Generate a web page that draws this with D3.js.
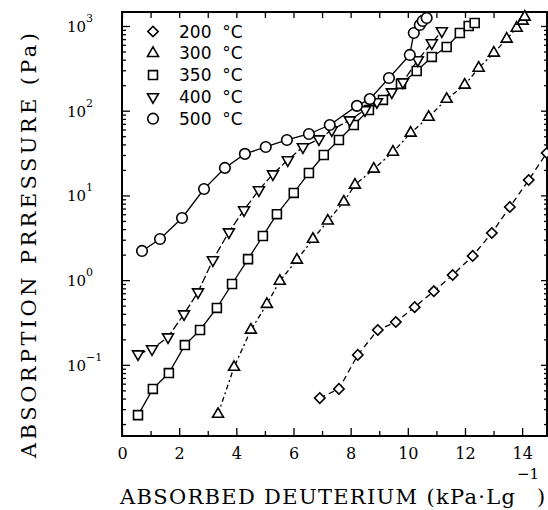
<!DOCTYPE html>
<html lang="en">
<head>
<meta charset="UTF-8">
<title>Absorption isotherms</title>
<script src="https://d3js.org/d3.v7.min.js"></script>
<style>
  body { margin: 0; background: #fff; }
  svg { display: block; }
  .axis path.domain { display: none; }
  .axis line { stroke: #000; stroke-width: 1.3; }
  .axis text { font-family: "DejaVu Serif", serif; font-size: 16px; fill: #000; }
</style>
</head>
<body>
<div id="chart"></div>
<script>
// absorbed deuterium (kPa L g-1) and absorption pressure (Pa)
const labels = ["200 \u00b0C", "300 \u00b0C", "350 \u00b0C", "400 \u00b0C", "500 \u00b0C"];

const absorbed200 = [6.92, 7.59, 8.25, 8.95, 9.58, 10.24, 10.91, 11.57, 12.27, 12.94, 13.57, 14.23, 14.86];
const pressure200 = [0.0405, 0.052, 0.131, 0.258, 0.32, 0.48, 0.74, 1.15, 1.93, 3.6, 7.3, 15.2, 31.7];

const absorbed300 = [3.36, 3.92, 4.51, 5.07, 5.52, 6.12, 6.68, 7.20, 7.76, 8.15, 8.81, 9.48, 10.10, 10.73, 11.36, 11.99, 12.48, 13.01, 13.46, 13.81, 14.02, 14.09];
const pressure300 = [0.0262, 0.094, 0.258, 0.52, 0.975, 1.73, 3.05, 5.0, 8.4, 13.3, 20.5, 32.5, 54.6, 84, 137, 201, 319, 480, 703, 946, 1146, 1276];

const absorbed350 = [0.56, 1.08, 1.64, 2.20, 2.73, 3.32, 3.85, 4.41, 4.93, 5.42, 6.01, 6.54, 7.06, 7.59, 8.11, 8.64, 9.13, 9.76, 10.31, 10.84, 11.36, 11.82, 12.13, 12.34];
const pressure350 = [0.0255, 0.052, 0.080, 0.171, 0.258, 0.47, 0.90, 1.77, 3.32, 6.0, 10.7, 18.4, 30.0, 45.1, 67.8, 102, 134, 207, 294, 431, 565, 826, 1000, 1085];

const absorbed400 = [0.56, 1.05, 1.61, 2.17, 2.66, 3.18, 3.74, 4.27, 4.79, 5.28, 5.80, 6.33, 6.89, 7.34, 7.97, 8.50, 8.92, 9.44, 9.83, 10.35, 10.84, 11.19];
const pressure400 = [0.134, 0.154, 0.213, 0.398, 0.724, 1.73, 3.70, 6.73, 11.6, 17.9, 26.2, 37.3, 46.3, 59.2, 77.6, 102, 127, 166, 218, 397, 630, 873];

const absorbed500 = [0.70, 1.33, 2.10, 2.87, 3.60, 4.30, 5.03, 5.77, 6.54, 7.27, 8.22, 8.67, 9.34, 10.07, 10.21, 10.42, 10.52, 10.66];
const pressure500 = [2.21, 3.06, 5.41, 11.9, 21.1, 30.9, 37.3, 45.1, 53.1, 67.8, 114, 137, 243, 455, 826, 1028, 1146, 1243];

const xMajorTicks = [0, 2, 4, 6, 8, 10, 12, 14];
const yDecades = [-1, 0, 1, 2, 3];

const W = 548, H = 510;
const plotLeft = 122, plotRight = 547, plotTop = 12, plotBottom = 436;

const svg = d3.select("#chart").append("svg")
    .attr("width", W)
    .attr("height", H);

const x = d3.scaleLinear().domain([0, 14.87]).range([plotLeft, plotRight]);
const y = d3.scaleLog().domain([Math.pow(10, -1.84), Math.pow(10, 3.165)]).range([plotBottom, plotTop]);

// tick positions
const xMinor = d3.range(1, 15, 2);
const xAll = d3.range(0, 15);
const yMajor = yDecades.map(p => Math.pow(10, p));
const yMinor = [];
for (let p = -2; p <= 3; p++) {
    for (let k = 2; k <= 9; k++) {
        const v = k * Math.pow(10, p);
        if (v > y.domain()[0] && v < y.domain()[1]) yMinor.push(v);
    }
}

// bottom axis
svg.append("g").attr("class", "axis")
    .attr("transform", `translate(0,${plotBottom})`)
    .call(d3.axisBottom(x).tickValues(xMajorTicks).tickSize(-8).tickPadding(12).tickFormat(d3.format("d")));
svg.append("g").attr("class", "axis")
    .attr("transform", `translate(0,${plotBottom})`)
    .call(d3.axisBottom(x).tickValues(xMinor).tickSize(-5).tickFormat(""));

// top axis
svg.append("g").attr("class", "axis")
    .attr("transform", `translate(0,${plotTop})`)
    .call(d3.axisTop(x).tickValues(xAll).tickSize(-6).tickFormat(""));

// left axis
svg.append("g").attr("class", "axis")
    .attr("transform", `translate(${plotLeft},0)`)
    .call(d3.axisLeft(y).tickValues(yMajor).tickSize(-8).tickFormat(""));
svg.append("g").attr("class", "axis")
    .attr("transform", `translate(${plotLeft},0)`)
    .call(d3.axisLeft(y).tickValues(yMinor).tickSize(-4).tickFormat(""));

// right axis
svg.append("g").attr("class", "axis")
    .attr("transform", `translate(${plotRight},0)`)
    .call(d3.axisRight(y).tickValues(yMajor).tickSize(-6).tickFormat(""));
svg.append("g").attr("class", "axis")
    .attr("transform", `translate(${plotRight},0)`)
    .call(d3.axisRight(y).tickValues(yMinor).tickSize(-3).tickFormat(""));

// frame
svg.append("rect")
    .attr("x", plotLeft).attr("y", plotTop)
    .attr("width", plotRight - plotLeft).attr("height", plotBottom - plotTop)
    .attr("fill", "none").attr("stroke", "#000").attr("stroke-width", 2);

// y tick labels 10^n
yDecades.forEach(p => {
    const t = svg.append("text")
        .attr("x", 67)
        .attr("y", y(Math.pow(10, p)) + 6)
        .attr("font-family", "DejaVu Serif, serif")
        .attr("font-size", 15)
        .text("10");
    t.append("tspan")
        .attr("dy", -10)
        .attr("font-size", 11)
        .text(p < 0 ? "\u2212" + (-p) : p);
});

// series
const series = [
    { name: labels[0], xs: absorbed200, ys: pressure200, shape: "diamond", dash: "6,4" },
    { name: labels[1], xs: absorbed300, ys: pressure300, shape: "up", dash: "5,3,2,3" },
    { name: labels[2], xs: absorbed350, ys: pressure350, shape: "square", dash: null },
    { name: labels[3], xs: absorbed400, ys: pressure400, shape: "down", dash: "8,3" },
    { name: labels[4], xs: absorbed500, ys: pressure500, shape: "circle", dash: null }
];

function marker(shape) {
    if (shape === "circle") return d3.symbol(d3.symbolCircle, 88)();
    if (shape === "square") return d3.symbol(d3.symbolSquare, 80)();
    if (shape === "diamond") return d3.symbol(d3.symbolSquare, 54)();
    return d3.symbol(d3.symbolTriangle, 52)();
}
function rot(shape) {
    if (shape === "diamond") return " rotate(45)";
    if (shape === "down") return " rotate(180)";
    return "";
}

const line = d3.line().x(d => x(d[0])).y(d => y(d[1]));

series.forEach(s => {
    const pts = s.xs.map((v, i) => [v, s.ys[i]]);
    svg.append("path")
        .datum(pts)
        .attr("d", line)
        .attr("fill", "none")
        .attr("stroke", "#000")
        .attr("stroke-width", 1.3)
        .attr("stroke-dasharray", s.dash);
});

series.forEach(s => {
    const pts = s.xs.map((v, i) => [v, s.ys[i]]);
    svg.append("g").selectAll("path")
        .data(pts)
        .enter().append("path")
        .attr("d", marker(s.shape))
        .attr("transform", d => `translate(${x(d[0])},${y(d[1])})` + rot(s.shape))
        .attr("fill", "#fff")
        .attr("stroke", "#000")
        .attr("stroke-width", 1.6);
});

// legend
const legend = svg.append("g");
series.forEach((s, i) => {
    const ly = 31.5 + i * 21.8;
    legend.append("path")
        .attr("d", marker(s.shape))
        .attr("transform", `translate(153,${ly})` + rot(s.shape))
        .attr("fill", "#fff")
        .attr("stroke", "#000")
        .attr("stroke-width", 1.6);
    legend.append("text")
        .attr("x", 179)
        .attr("y", ly + 6)
        .attr("font-family", "DejaVu Sans, sans-serif")
        .attr("font-size", 17)
        .style("white-space", "pre")
        .text(s.name.replace(" ", "  "));
});

// axis titles
const xt = svg.append("text")
    .attr("y", 504)
    .attr("font-family", "DejaVu Serif, serif")
    .attr("font-size", 21);
xt.append("tspan").attr("x", 120).attr("textLength", 395).attr("lengthAdjust", "spacing")
    .text("ABSORBED DEUTERIUM (kPa\u00b7Lg");
xt.append("tspan").attr("x", 517).attr("y", 479).attr("font-size", 15).text("\u22121");
xt.append("tspan").attr("x", 537).attr("y", 504).text(")");

svg.append("text")
    .attr("transform", "translate(36,245.5) rotate(-90)")
    .attr("text-anchor", "middle")
    .attr("font-family", "DejaVu Serif, serif")
    .attr("font-size", 21)
    .attr("textLength", 425)
    .attr("lengthAdjust", "spacing")
    .text("ABSORPTION PRRESSURE (Pa)");
</script>
</body>
</html>
